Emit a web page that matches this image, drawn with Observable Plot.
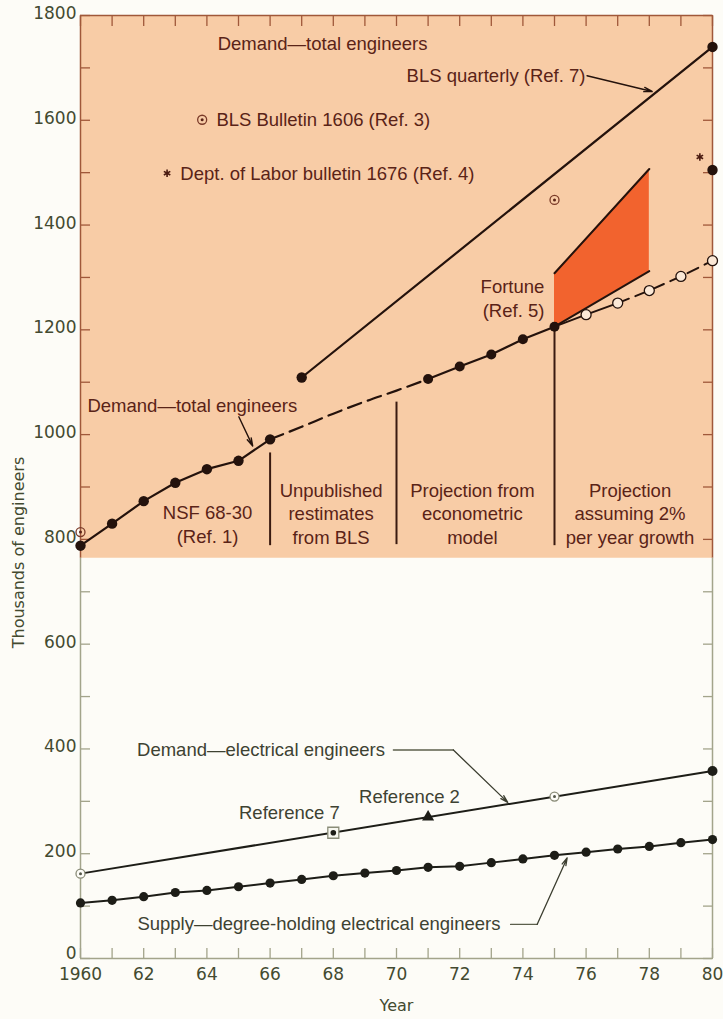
<!DOCTYPE html>
<html>
<head>
<meta charset="utf-8">
<script src="https://cdn.jsdelivr.net/npm/d3@7"></script>
<script src="https://cdn.jsdelivr.net/npm/@observablehq/plot@0.6"></script>
<style>
  html, body { margin: 0; padding: 0; background: #fdfcf7; }
  #chart { width: 723px; height: 1019px; }
</style>
</head>
<body>
<div id="chart"></div>
<script>
// ---------- Tick values and labels ----------
const xYears = [1960,1961,1962,1963,1964,1965,1966,1967,1968,1969,1970,1971,1972,1973,1974,1975,1976,1977,1978,1979,1980];
const xLabelYears = [1960,1962,1964,1966,1968,1970,1972,1974,1976,1978,1980];
const xTickLabels = ["1960","62","64","66","68","70","72","74","76","78","80"];
const yLabelValues = [0,200,400,600,800,1000,1200,1400,1600,1800];
const yTickLabels = ["0","200","400","600","800","1000","1200","1400","1600","1800"];
const yTicksUpper = [800,900,1000,1100,1200,1300,1400,1500,1600,1700,1800];
const yTicksLower = [0,100,200,300,400,500,600,700];

// ---------- Demand — total engineers (thousands) ----------
const nsfYears = [1960,1961,1962,1963,1964,1965,1966];
const nsfValues = [788,830,873,908,934,950,991];
const blsEstYears = [1966,1967,1968,1969,1970,1971];
const blsEstValues = [991,1015,1040,1063,1084,1106];
const econYears = [1971,1972,1973,1974,1975];
const econValues = [1106,1130,1153,1182,1206];
const growthYears = [1975,1976,1977,1978,1979,1980];
const growthValues = [1206,1229,1251,1275,1302,1332];
const blsQuarterlyYears = [1967,1980];
const blsQuarterlyValues = [1109,1740];
const extraDotYears = [1980];
const extraDotValues = [1505];
const blsBulletinYears = [1960,1975];
const blsBulletinValues = [814,1448];
const dolYears = [1979.6];
const dolValues = [1530];
const fortuneYears = [1975,1978];
const fortuneLow = [1206,1312];
const fortuneHigh = [1308,1507];

// ---------- Electrical engineers ----------
const eeDemandYears = [1960,1980];
const eeDemandValues = [162,358];
const eeRefCircleYears = [1960,1975];
const eeRefCircleValues = [162,309];
const eeRef7Years = [1968];
const eeRef7Values = [240];
const eeRef2Years = [1971];
const eeRef2Values = [270];
const eeEndYears = [1980];
const eeEndValues = [358];
const supplyYears = [1960,1961,1962,1963,1964,1965,1966,1967,1968,1969,1970,1971,1972,1973,1974,1975,1976,1977,1978,1979,1980];
const supplyValues = [106,111,118,126,130,137,144,151,158,163,168,174,176,183,190,197,203,209,214,221,227];

// ---------- Annotations (data coordinates) ----------
const shadedBand = [{x1: 1960, x2: 1980, y1: 764, y2: 1800}];
const dividerYears = [1966,1970,1975];
const dividerBottoms = [788,790,788];
const dividerTops = [965,1062,1206];

const regionLabels = ["NSF 68-30\n(Ref. 1)", "Unpublished\nrestimates\nfrom BLS", "Projection from\neconometric\nmodel", "Projection\nassuming 2%\nper year growth"];
const regionLabelYears = [1964.02, 1967.93, 1972.4, 1977.39];
const regionLabelValues = [830, 851, 851, 851];

const upperLabels = ["Demand—total engineers", "BLS Bulletin 1606 (Ref. 3)", "Dept. of Labor bulletin 1676 (Ref. 4)", "Demand—total engineers"];
const upperLabelYears = [1964.34, 1964.3, 1963.16, 1960.22];
const upperLabelValues = [1745, 1601, 1498, 1055];
const rightLabels = ["BLS quarterly (Ref. 7)", "Fortune\n(Ref. 5)"];
const rightLabelYears = [1975.98, 1974.68];
const rightLabelValues = [1688, 1262];
const legendCircleYear = [1963.85], legendCircleValue = [1601];
const legendStarYear = [1962.74], legendStarValue = [1499];

const upperArrows = [
  {x1: 1976.03, y1: 1685, x2: 1978.09, y2: 1655},
  {x1: 1965.01, y1: 1034, x2: 1965.45, y2: 978}
];

const lowerLabels = ["Demand—electrical engineers", "Supply—degree-holding electrical engineers"];
const lowerLabelYears = [1961.79, 1961.8];
const lowerLabelValues = [398, 66];
const refLabels = ["Reference 7", "Reference 2"];
const refLabelYears = [1966.61, 1970.41];
const refLabelValues = [278, 308];

const demandLeaderYears = [1969.9, 1971.8];
const demandLeaderValues = [398, 398];
const supplyLeaderYears = [1973.61, 1974.45];
const supplyLeaderValues = [65, 65];
const lowerArrows = [
  {x1: 1971.8, y1: 398, x2: 1973.52, y2: 298},
  {x1: 1974.45, y1: 65, x2: 1975.4, y2: 192}
];
const yTitleValue = [775];

// ---------- Styles ----------
const peach = "#f8cca6";
const orange = "#f2632e";
const upperInk = "#24120c";
const upperText = "#5a2317";
const upperAxis = "#a0583a";
const lowerInk = "#1d1d17";
const lowerText = "#3e4232";
const lowerAxis = "#a3a48b";
const tickText = "#434a30";
const annFont = "Liberation Sans, Arial, sans-serif";
const tickFont = "DejaVu Sans, sans-serif";

const zip = (xs, ys) => xs.map((x, i) => ({x, y: ys[i]}));
const yFmt = d => yTickLabels[yLabelValues.indexOf(d)];

const chart = Plot.plot({
  width: 723,
  height: 1019,
  marginLeft: 80,
  marginRight: 11,
  marginTop: 15,
  marginBottom: 61,
  x: {domain: [1960, 1980], label: null},
  y: {domain: [0, 1800], label: null},
  style: {background: "transparent", fontFamily: annFont, overflow: "visible"},
  marks: [
    // shaded upper panel
    Plot.rect(shadedBand, {x1: "x1", x2: "x2", y1: "y1", y2: "y2", fill: peach}),
    // Fortune band
    Plot.areaY(fortuneYears.map((x, i) => ({x, lo: fortuneLow[i], hi: fortuneHigh[i]})), {x: "x", y1: "lo", y2: "hi", fill: orange}),
    Plot.line(zip(fortuneYears, fortuneHigh), {x: "x", y: "y", stroke: upperInk, strokeWidth: 2}),
    Plot.line(zip(fortuneYears, fortuneLow), {x: "x", y: "y", stroke: upperInk, strokeWidth: 2}),
    // dividers
    Plot.ruleX(dividerYears.map((x, i) => ({x, y1: dividerBottoms[i], y2: dividerTops[i]})), {x: "x", y1: "y1", y2: "y2", stroke: "#3a1a10", strokeWidth: 2}),

    // frame lines
    Plot.ruleX([{x: 1960}, {x: 1980}], {x: "x", y1: 764, y2: 1800, stroke: upperAxis, strokeWidth: 1.5}),
    Plot.ruleX([{x: 1960}, {x: 1980}], {x: "x", y1: 0, y2: 764, stroke: lowerAxis, strokeWidth: 1.5}),
    Plot.ruleY([1800], {stroke: upperAxis, strokeWidth: 1.5}),
    Plot.ruleY([0], {stroke: lowerAxis, strokeWidth: 1.5}),

    // inward ticks
    Plot.axisY(yTicksUpper, {anchor: "left", tickSize: -10, stroke: upperAxis, fill: "none", strokeWidth: 1.3, label: null}),
    Plot.axisY(yTicksLower, {anchor: "left", tickSize: -10, stroke: lowerAxis, fill: "none", strokeWidth: 1.3, label: null}),
    Plot.axisY(yTicksUpper, {anchor: "right", tickSize: -10, stroke: upperAxis, fill: "none", strokeWidth: 1.3, label: null}),
    Plot.axisY(yTicksLower, {anchor: "right", tickSize: -10, stroke: lowerAxis, fill: "none", strokeWidth: 1.3, label: null}),
    Plot.axisX(xYears, {anchor: "top", tickSize: -10, stroke: upperAxis, fill: "none", strokeWidth: 1.3, label: null}),
    Plot.axisX(xYears, {anchor: "bottom", tickSize: -10, stroke: lowerAxis, fill: "none", strokeWidth: 1.3, label: null}),
    // tick labels
    Plot.axisY(yLabelValues.slice(1), {anchor: "left", tickSize: 0, tickPadding: 4, dy: -2, fill: tickText, fontSize: 17, fontFamily: tickFont, label: null, tickFormat: yFmt}),
    Plot.axisY(yLabelValues.slice(0, 1), {anchor: "left", tickSize: 0, tickPadding: 4, dy: -5, fill: tickText, fontSize: 17, fontFamily: tickFont, label: null, tickFormat: yFmt}),
    Plot.axisX(xLabelYears, {anchor: "bottom", tickSize: 0, tickPadding: 9, fill: tickText, fontSize: 17, fontFamily: tickFont, label: null,
      tickFormat: d => xTickLabels[xLabelYears.indexOf(d)]}),
    // axis titles
    Plot.text(["Year"], {frameAnchor: "bottom", dy: 52, fill: tickText, fontSize: 16, fontFamily: tickFont}),
    Plot.text(["Thousands of engineers"], {y: yTitleValue, frameAnchor: "left", dx: -62, rotate: -90, textAnchor: "middle", fill: tickText, fontSize: 16, fontFamily: tickFont}),

    // ---- total engineers series ----
    Plot.line(zip(nsfYears, nsfValues), {x: "x", y: "y", stroke: upperInk, strokeWidth: 2.2}),
    Plot.line(zip(blsEstYears, blsEstValues), {x: "x", y: "y", stroke: upperInk, strokeWidth: 2.2, strokeDasharray: "14,7", curve: "monotone-x"}),
    Plot.line(zip(econYears, econValues), {x: "x", y: "y", stroke: upperInk, strokeWidth: 2.2}),
    Plot.line(zip(growthYears.slice(0, 3), growthValues.slice(0, 3)), {x: "x", y: "y", stroke: upperInk, strokeWidth: 2}),
    Plot.line(zip(growthYears.slice(2), growthValues.slice(2)), {x: "x", y: "y", stroke: upperInk, strokeWidth: 2, strokeDasharray: "12,7"}),
    Plot.line(zip(blsQuarterlyYears, blsQuarterlyValues), {x: "x", y: "y", stroke: upperInk, strokeWidth: 2.2}),

    Plot.dot(zip(nsfYears, nsfValues), {x: "x", y: "y", r: 5.2, fill: upperInk}),
    Plot.dot(zip(econYears, econValues), {x: "x", y: "y", r: 5, fill: upperInk}),
    Plot.dot(zip(blsQuarterlyYears, blsQuarterlyValues), {x: "x", y: "y", r: 5.2, fill: upperInk}),
    Plot.dot(zip(extraDotYears, extraDotValues), {x: "x", y: "y", r: 5.2, fill: upperInk}),
    Plot.dot(zip(growthYears.slice(1), growthValues.slice(1)), {x: "x", y: "y", r: 5, fill: "#fbe8d6", stroke: upperInk, strokeWidth: 1.3}),
    // BLS Bulletin 1606 markers (+ legend)
    Plot.dot(zip(blsBulletinYears.concat(legendCircleYear), blsBulletinValues.concat(legendCircleValue)), {x: "x", y: "y", r: 4.5, fill: "none", stroke: "#7a3a28", strokeWidth: 1.3}),
    Plot.dot(zip(blsBulletinYears.concat(legendCircleYear), blsBulletinValues.concat(legendCircleValue)), {x: "x", y: "y", r: 1.5, fill: "#5a2317"}),
    // Dept of Labor markers (+ legend)
    Plot.dot(zip(dolYears.concat(legendStarYear), dolValues.concat(legendStarValue)), {x: "x", y: "y", symbol: "asterisk", r: 3.5, stroke: "#4a1a10", strokeWidth: 1.6}),

    // ---- electrical engineers ----
    Plot.line(zip(eeDemandYears, eeDemandValues), {x: "x", y: "y", stroke: lowerInk, strokeWidth: 2}),
    Plot.line(zip(supplyYears, supplyValues), {x: "x", y: "y", stroke: lowerInk, strokeWidth: 2}),
    Plot.dot(zip(supplyYears, supplyValues), {x: "x", y: "y", r: 4.6, fill: lowerInk}),
    Plot.dot(zip(eeRefCircleYears, eeRefCircleValues), {x: "x", y: "y", r: 4.5, fill: "#fdfcf7", stroke: "#8a8c78", strokeWidth: 1.3}),
    Plot.dot(zip(eeRefCircleYears, eeRefCircleValues), {x: "x", y: "y", r: 1.5, fill: "#55584a"}),
    Plot.dot(zip(eeRef7Years, eeRef7Values), {x: "x", y: "y", symbol: "square", r: 6.2, fill: "#f7f7ef", stroke: "#8a8c78", strokeWidth: 1.3}),
    Plot.dot(zip(eeRef7Years, eeRef7Values), {x: "x", y: "y", r: 2.8, fill: lowerInk}),
    Plot.dot(zip(eeRef2Years, eeRef2Values), {x: "x", y: "y", symbol: "triangle", r: 4.5, fill: lowerInk}),
    Plot.dot(zip(eeEndYears, eeEndValues), {x: "x", y: "y", r: 5, fill: lowerInk}),

    // ---- leaders / arrows ----
    Plot.arrow(upperArrows, {x1: "x1", y1: "y1", x2: "x2", y2: "y2", stroke: upperInk, strokeWidth: 1.4, headLength: 9, headAngle: 30}),
    Plot.line(zip(demandLeaderYears, demandLeaderValues), {x: "x", y: "y", stroke: "#5c5f4c", strokeWidth: 1.3}),
    Plot.line(zip(supplyLeaderYears, supplyLeaderValues), {x: "x", y: "y", stroke: "#5c5f4c", strokeWidth: 1.3}),
    Plot.arrow(lowerArrows, {x1: "x1", y1: "y1", x2: "x2", y2: "y2", stroke: "#3c3e30", strokeWidth: 1.3, headLength: 9, headAngle: 30}),

    // ---- text ----
    Plot.text(regionLabels, {x: (d, i) => regionLabelYears[i], y: (d, i) => regionLabelValues[i], text: d => d, textAnchor: "middle", lineAnchor: "middle", lineHeight: 1.27, fill: upperText, fontSize: 18.5}),
    Plot.text(upperLabels, {x: (d, i) => upperLabelYears[i], y: (d, i) => upperLabelValues[i], text: d => d, textAnchor: "start", fill: upperText, fontSize: 18.5}),
    Plot.text(rightLabels, {x: (d, i) => rightLabelYears[i], y: (d, i) => rightLabelValues[i], text: d => d, textAnchor: "end", lineAnchor: "middle", lineHeight: 1.3, fill: upperText, fontSize: 18.5}),
    Plot.text(lowerLabels, {x: (d, i) => lowerLabelYears[i], y: (d, i) => lowerLabelValues[i], text: d => d, textAnchor: "start", fill: lowerText, fontSize: 18.5}),
    Plot.text(refLabels, {x: (d, i) => refLabelYears[i], y: (d, i) => refLabelValues[i], text: d => d, textAnchor: "middle", fill: lowerText, fontSize: 18.5})
  ]
});
document.getElementById("chart").append(chart);
</script>
</body>
</html>
